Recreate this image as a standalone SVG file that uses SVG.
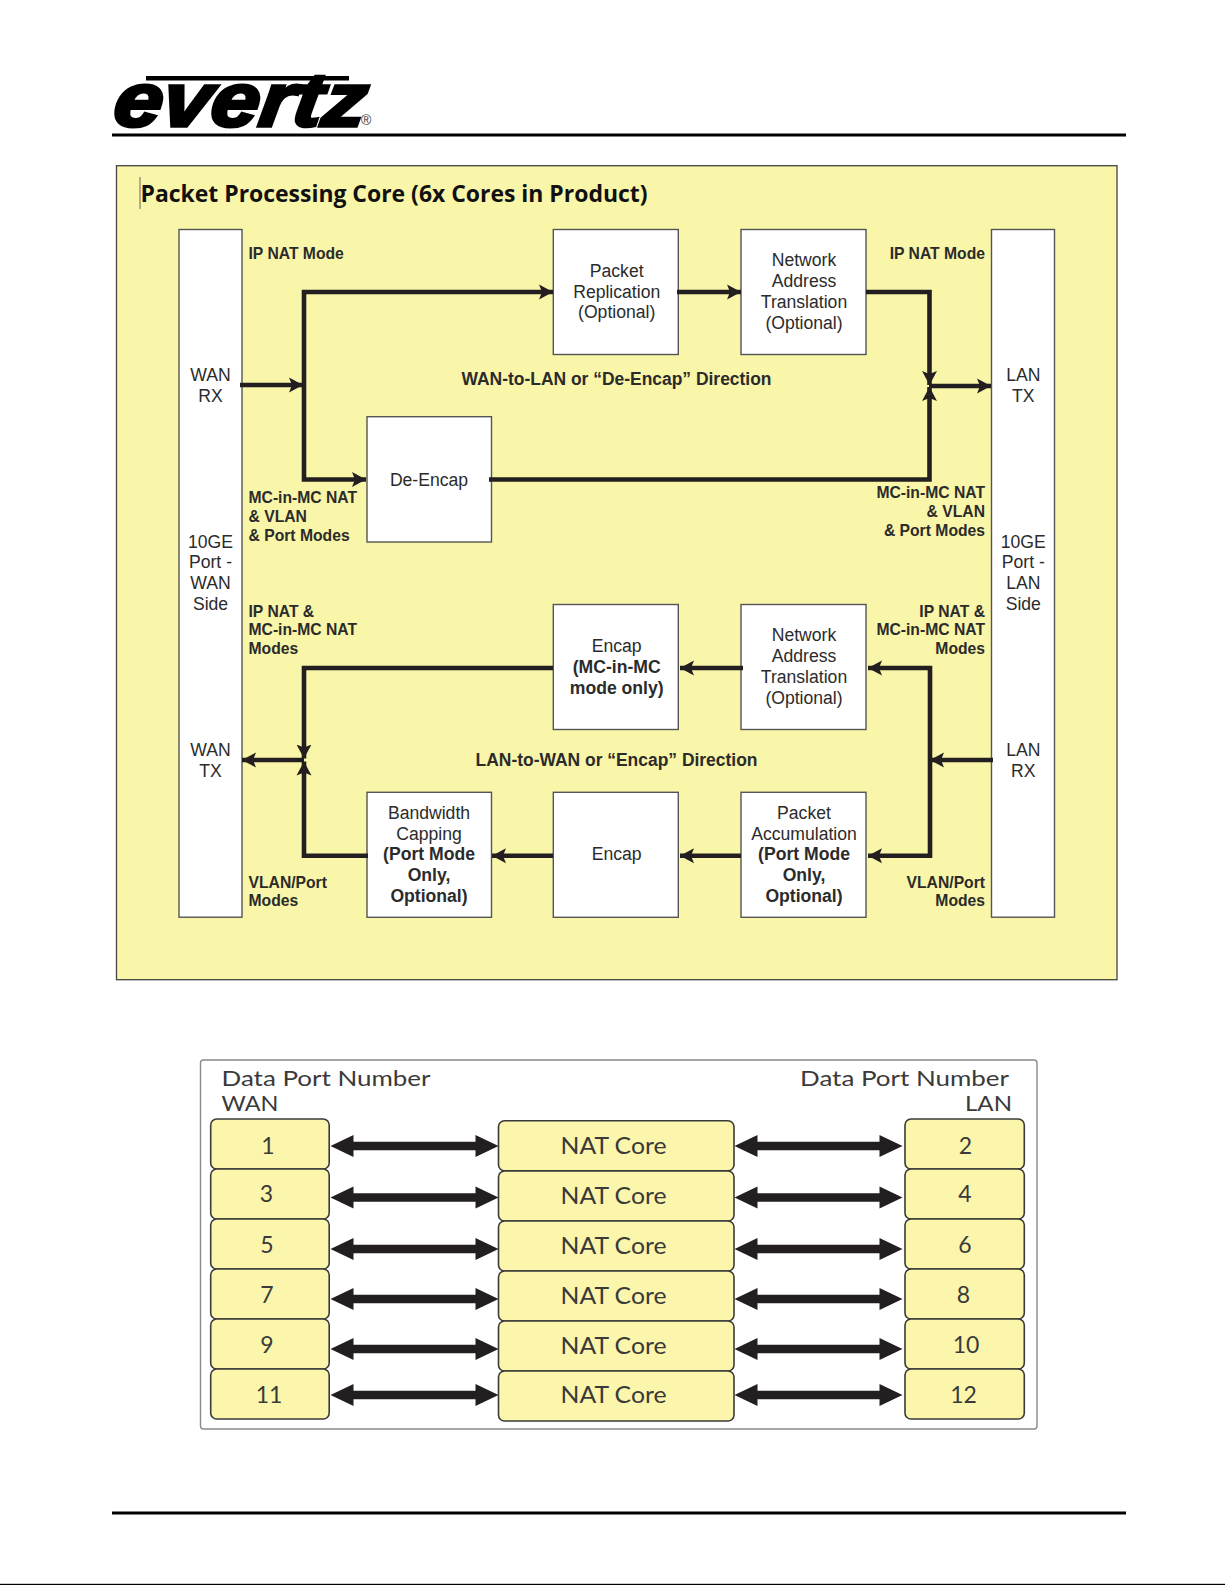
<svg xmlns="http://www.w3.org/2000/svg" width="1225" height="1585" viewBox="0 0 1225 1585">
<style>
text{font-family:"Liberation Sans",Arial,sans-serif;fill:#2b2b2b}
.b{font-size:17.6px;text-anchor:middle}
.bb{font-size:17.6px;text-anchor:middle;font-weight:bold}
.l{font-size:15.7px;font-weight:bold}
.r{font-size:15.7px;font-weight:bold;text-anchor:end}
.d{font-size:17.45px;font-weight:bold;text-anchor:middle}
.box{fill:#fff;stroke:#555;stroke-width:1.4}
.m{font-family:"Lato","Open Sans",sans-serif;fill:#3a3a3a}
.h{font-size:21.5px}
.n{font-size:23px;text-anchor:middle}
.cell{fill:#fbf6ab;stroke:#3a3a3a;stroke-width:1.6}
.c{fill:none;stroke:#231f20;stroke-width:4.6}
.dbl{fill:#231f20}
</style>
<defs>
<marker id="ah" markerUnits="userSpaceOnUse" markerWidth="16" markerHeight="16" refX="14" refY="8" orient="auto"><polygon points="0,0.5 14,8 0,15.5 3,8" fill="#231f20"/></marker>
<polygon id="da" points="0,0 23,-11 23,-4.2 145,-4.2 145,-11 168,0 145,11 145,4.2 23,4.2 23,11"/>
</defs>
<rect width="1225" height="1585" fill="#fff"/>
<g id="logo">
<rect x="146" y="76" width="203" height="4.5" fill="#000"/>
<text x="0" y="0" transform="translate(111.5,126) skewX(-8)" textLength="252" lengthAdjust="spacingAndGlyphs" style="font-family:'Liberation Sans',sans-serif;font-size:76px;font-weight:bold;font-style:italic;fill:#000;stroke:#000;stroke-width:3.4">evertz</text>
<text x="361" y="125" style="font-size:14px;fill:#333">®</text>
</g>
<rect id="header-rule" x="112" y="133.5" width="1014" height="3" fill="#000"/>
<rect id="footer-rule" x="112" y="1511.5" width="1014" height="3" fill="#000"/>
<rect id="page-edge" x="0" y="1583.8" width="1225" height="1.2" fill="#000"/>

<g id="core-panel">
<rect x="116.5" y="165.7" width="1000.5" height="814" fill="#f9f6a9" stroke="#444" stroke-width="1.3"/>
<line x1="140" y1="177" x2="140" y2="209" stroke="#666" stroke-width="1"/>
<text x="140.5" y="201.7" textLength="507" lengthAdjust="spacingAndGlyphs" style="font-family:'Open Sans',sans-serif;font-size:24px;font-weight:700;fill:#111">Packet Processing Core (6x Cores in Product)</text>
<text class="l" x="248.5" y="259">IP NAT Mode</text>
<text class="r" x="985" y="259">IP NAT Mode</text>
<text class="d" x="616.5" y="385">WAN-to-LAN or “De-Encap” Direction</text>
<text class="d" x="616.5" y="766">LAN-to-WAN or “Encap” Direction</text>
<text class="l" x="248.5" y="503.3">MC-in-MC NAT</text>
<text class="l" x="248.5" y="522">&amp; VLAN</text>
<text class="l" x="248.5" y="541">&amp; Port Modes</text>
<text class="r" x="985" y="497.7">MC-in-MC NAT</text>
<text class="r" x="985" y="516.7">&amp; VLAN</text>
<text class="r" x="985" y="535.7">&amp; Port Modes</text>
<text class="l" x="248.5" y="616.5">IP NAT &amp;</text>
<text class="l" x="248.5" y="634.5">MC-in-MC NAT</text>
<text class="l" x="248.5" y="653.5">Modes</text>
<text class="r" x="985" y="616.5">IP NAT &amp;</text>
<text class="r" x="985" y="634.5">MC-in-MC NAT</text>
<text class="r" x="985" y="653.5">Modes</text>
<text class="l" x="248.5" y="887.7">VLAN/Port</text>
<text class="l" x="248.5" y="906">Modes</text>
<text class="r" x="985" y="887.7">VLAN/Port</text>
<text class="r" x="985" y="906">Modes</text>
</g>

<g id="wan-port">
<rect class="box" x="179" y="229.5" width="63" height="687.7"/>
<text class="b" x="210.5" y="380.7">WAN</text><text class="b" x="210.5" y="402">RX</text>
<text class="b" x="210.5" y="548">10GE</text><text class="b" x="210.5" y="568">Port -</text><text class="b" x="210.5" y="589">WAN</text><text class="b" x="210.5" y="610">Side</text>
<text class="b" x="210.5" y="755.7">WAN</text><text class="b" x="210.5" y="777">TX</text>
</g>
<g id="lan-port">
<rect class="box" x="991.5" y="229.5" width="63" height="687.7"/>
<text class="b" x="1023.3" y="380.7">LAN</text><text class="b" x="1023.3" y="402">TX</text>
<text class="b" x="1023.3" y="548">10GE</text><text class="b" x="1023.3" y="568">Port -</text><text class="b" x="1023.3" y="589">LAN</text><text class="b" x="1023.3" y="610">Side</text>
<text class="b" x="1023.3" y="755.7">LAN</text><text class="b" x="1023.3" y="777">RX</text>
</g>
<g id="packet-replication">
<rect class="box" x="553.3" y="229.5" width="125" height="125"/>
<text class="b" x="616.7" y="276.5">Packet</text><text class="b" x="616.7" y="297.5">Replication</text><text class="b" x="616.7" y="318">(Optional)</text>
</g>
<g id="nat-top">
<rect class="box" x="741" y="229.5" width="125" height="125"/>
<text class="b" x="804" y="265.7">Network</text><text class="b" x="804" y="286.5">Address</text><text class="b" x="804" y="307.5">Translation</text><text class="b" x="804" y="329">(Optional)</text>
</g>
<g id="de-encap">
<rect class="box" x="367" y="416.7" width="124.5" height="125.3"/>
<text class="b" x="429" y="485.7">De-Encap</text>
</g>
<g id="encap-mc">
<rect class="box" x="553.3" y="604.5" width="125" height="125"/>
<text class="b" x="616.7" y="651.5">Encap</text><text class="bb" x="616.7" y="673">(MC-in-MC</text><text class="bb" x="616.7" y="693.5">mode only)</text>
</g>
<g id="nat-bottom">
<rect class="box" x="741" y="604.5" width="125" height="125"/>
<text class="b" x="804" y="641">Network</text><text class="b" x="804" y="662">Address</text><text class="b" x="804" y="683">Translation</text><text class="b" x="804" y="704">(Optional)</text>
</g>
<g id="bandwidth-capping">
<rect class="box" x="367" y="792.3" width="124.5" height="125"/>
<text class="b" x="429" y="818.5">Bandwidth</text><text class="b" x="429" y="839.5">Capping</text><text class="bb" x="429" y="860">(Port Mode</text><text class="bb" x="429" y="881">Only,</text><text class="bb" x="429" y="902">Optional)</text>
</g>
<g id="encap-port">
<rect class="box" x="553.3" y="792.3" width="125" height="125"/>
<text class="b" x="616.7" y="860">Encap</text>
</g>
<g id="packet-accumulation">
<rect class="box" x="741" y="792.3" width="125" height="125"/>
<text class="b" x="804" y="818.5">Packet</text><text class="b" x="804" y="839.5">Accumulation</text><text class="bb" x="804" y="860">(Port Mode</text><text class="bb" x="804" y="881">Only,</text><text class="bb" x="804" y="902">Optional)</text>
</g>

<g id="connectors">
<path class="c" marker-end="url(#ah)" d="M240 385H303"/>
<path class="c" marker-end="url(#ah)" d="M304 385V292H553"/>
<path class="c" marker-end="url(#ah)" d="M304 385V479.5H366"/>
<path class="c" marker-end="url(#ah)" d="M677 292H741"/>
<path class="c" marker-end="url(#ah)" d="M866 292H929.5V385"/>
<path class="c" marker-end="url(#ah)" d="M489 479.5H929.5V387"/>
<path class="c" marker-end="url(#ah)" d="M929 386H991"/>
<path class="c" marker-end="url(#ah)" d="M553 668H304V758.5"/>
<path class="c" marker-end="url(#ah)" d="M368 855.7H304V761.5"/>
<path class="c" marker-end="url(#ah)" d="M304 760H242"/>
<path class="c" marker-end="url(#ah)" d="M743 668H680"/>
<path class="c" marker-end="url(#ah)" d="M993 760H930"/>
<path class="c" marker-end="url(#ah)" d="M930 760V668H868"/>
<path class="c" marker-end="url(#ah)" d="M930 760V855.7H868"/>
<path class="c" marker-end="url(#ah)" d="M741 855.7H680"/>
<path class="c" marker-end="url(#ah)" d="M553 855.7H492"/>
</g>

<g id="port-panel">
<rect x="200.5" y="1060" width="836.5" height="369" rx="3" fill="#fff" stroke="#8a8a8a" stroke-width="1.4"/>
<text class="m h" x="221.5" y="1085.5" textLength="209" lengthAdjust="spacingAndGlyphs">Data Port Number</text>
<text class="m h" x="221.5" y="1111" textLength="57" lengthAdjust="spacingAndGlyphs">WAN</text>
<text class="m h" x="800" y="1085.5" textLength="209" lengthAdjust="spacingAndGlyphs">Data Port Number</text>
<text class="m h" x="965" y="1111" textLength="47" lengthAdjust="spacingAndGlyphs">LAN</text>
</g>
<g id="wan-1"><rect class="cell" x="210.7" y="1119" width="118.5" height="50" rx="6"/><text class="m n" x="268" y="1153.5">1</text></g>
<g id="wan-3"><rect class="cell" x="210.7" y="1169" width="118.5" height="50" rx="6"/><text class="m n" x="266.5" y="1201.5">3</text></g>
<g id="wan-5"><rect class="cell" x="210.7" y="1219" width="118.5" height="50" rx="6"/><text class="m n" x="267" y="1252.7">5</text></g>
<g id="wan-7"><rect class="cell" x="210.7" y="1269" width="118.5" height="50" rx="6"/><text class="m n" x="267" y="1302.7">7</text></g>
<g id="wan-9"><rect class="cell" x="210.7" y="1319" width="118.5" height="50" rx="6"/><text class="m n" x="267" y="1352.7">9</text></g>
<g id="wan-11"><rect class="cell" x="210.7" y="1369" width="118.5" height="50" rx="6"/><text class="m n" x="269" y="1403">11</text></g>
<g id="core-1"><rect class="cell" x="498.5" y="1120.7" width="235.5" height="50" rx="6"/><text class="m n" x="613.5" y="1153.7" textLength="106" lengthAdjust="spacingAndGlyphs">NAT Core</text></g>
<g id="core-2"><rect class="cell" x="498.5" y="1171" width="235.5" height="50" rx="6"/><text class="m n" x="613.5" y="1203.5" textLength="106" lengthAdjust="spacingAndGlyphs">NAT Core</text></g>
<g id="core-3"><rect class="cell" x="498.5" y="1221" width="235.5" height="50" rx="6"/><text class="m n" x="613.5" y="1253.7" textLength="106" lengthAdjust="spacingAndGlyphs">NAT Core</text></g>
<g id="core-4"><rect class="cell" x="498.5" y="1271" width="235.5" height="50" rx="6"/><text class="m n" x="613.5" y="1303.7" textLength="106" lengthAdjust="spacingAndGlyphs">NAT Core</text></g>
<g id="core-5"><rect class="cell" x="498.5" y="1321" width="235.5" height="50" rx="6"/><text class="m n" x="613.5" y="1353.5" textLength="106" lengthAdjust="spacingAndGlyphs">NAT Core</text></g>
<g id="core-6"><rect class="cell" x="498.5" y="1371" width="235.5" height="50" rx="6"/><text class="m n" x="613.5" y="1403" textLength="106" lengthAdjust="spacingAndGlyphs">NAT Core</text></g>
<g id="lan-2"><rect class="cell" x="905" y="1119" width="119.3" height="50" rx="6"/><text class="m n" x="965.5" y="1154">2</text></g>
<g id="lan-4"><rect class="cell" x="905" y="1169" width="119.3" height="50" rx="6"/><text class="m n" x="965" y="1201.5">4</text></g>
<g id="lan-6"><rect class="cell" x="905" y="1219" width="119.3" height="50" rx="6"/><text class="m n" x="965" y="1252.7">6</text></g>
<g id="lan-8"><rect class="cell" x="905" y="1269" width="119.3" height="50" rx="6"/><text class="m n" x="963.5" y="1302.7">8</text></g>
<g id="lan-10"><rect class="cell" x="905" y="1319" width="119.3" height="50" rx="6"/><text class="m n" x="966" y="1352.7">10</text></g>
<g id="lan-12"><rect class="cell" x="905" y="1369" width="119.3" height="50" rx="6"/><text class="m n" x="963.5" y="1403">12</text></g>

<g id="port-connectors" class="dbl">
<use href="#da" x="330.5" y="1146"/><use href="#da" x="734.5" y="1146"/>
<use href="#da" x="330.5" y="1197.5"/><use href="#da" x="734.5" y="1197.5"/>
<use href="#da" x="330.5" y="1249"/><use href="#da" x="734.5" y="1249"/>
<use href="#da" x="330.5" y="1299"/><use href="#da" x="734.5" y="1299"/>
<use href="#da" x="330.5" y="1349"/><use href="#da" x="734.5" y="1349"/>
<use href="#da" x="330.5" y="1395"/><use href="#da" x="734.5" y="1395"/>
</g>
</svg>
